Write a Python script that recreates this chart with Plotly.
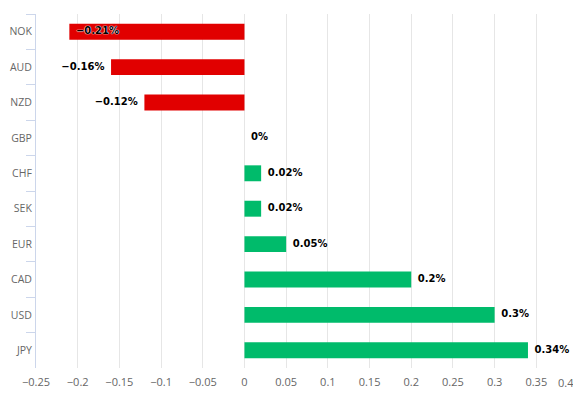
import plotly.graph_objects as go

currencies = ["NOK", "AUD", "NZD", "GBP", "CHF", "SEK", "EUR", "CAD", "USD", "JPY"]
changes = [-0.21, -0.16, -0.12, 0, 0.02, 0.02, 0.05, 0.2, 0.3, 0.34]
x_ticks = [-0.25, -0.2, -0.15, -0.1, -0.05, 0, 0.05, 0.1, 0.15, 0.2, 0.25, 0.3, 0.35, 0.4]

RED = "#e10000"
GREEN = "#00bb6b"

def fmt_pct(v):
    s = ("%g" % v)
    return s.replace("-", "\u2212") + "%"

def fmt_tick(v):
    return ("%g" % v).replace("-", "\u2212")

colors = [RED if v < 0 else GREEN for v in changes]
labels = [fmt_pct(v) for v in changes]

# label placement: outside the bar, except when it would leave the plot (NOK)
xmin = x_ticks[0]
positions = []
for v in changes:
    if v < 0:
        positions.append("middle right" if v - 0.05 < xmin else "middle left")
    else:
        positions.append("middle right")

fig = go.Figure()
fig.add_trace(go.Bar(
    x=changes, y=currencies, orientation="h",
    marker=dict(color=colors, line=dict(width=0)),
    hoverinfo="skip",
))
fig.add_trace(go.Scatter(
    x=changes, y=currencies, mode="markers+text",
    marker=dict(size=9, opacity=0),
    text=labels, textposition=positions,
    textfont=dict(family="DejaVu Sans", size=10, color="#000000",
                  weight="bold",
                  shadow="0 0 1px #fff, 0 0 1px #fff, 0 0 1px #fff"),
    cliponaxis=False, hoverinfo="skip",
))

n = len(currencies)
# last tick label is kept inside the chart (right-aligned at its tick)
inner_ticks = x_ticks[:-1]
fig.update_layout(
    width=573, height=391,
    margin=dict(l=28, r=3, t=6, b=31),
    paper_bgcolor="white", plot_bgcolor="white",
    showlegend=False, bargap=0.55,
    font=dict(family="Open Sans", size=11, color="#666666"),
    annotations=[dict(
        x=x_ticks[-1], xref="x", y=0, yref="paper",
        text=fmt_tick(x_ticks[-1]), showarrow=False,
        xanchor="right", yanchor="top", yshift=-5, xshift=-2,
        font=dict(size=11, color="#666666"),
    )],
)
fig.update_xaxes(
    range=[x_ticks[0], x_ticks[-1]], tickvals=inner_ticks,
    ticktext=[fmt_tick(v) for v in inner_ticks],
    showgrid=True, gridcolor="#e6e6e6", gridwidth=1,
    zeroline=False, showline=False, ticks="", ticklabelstandoff=6,
    tickfont=dict(size=11, color="#666666"), automargin=False,
)
fig.add_vline(x=x_ticks[-1], line=dict(color="#e6e6e6", width=1), layer="below")
fig.update_yaxes(
    categoryorder="array", categoryarray=currencies,
    range=[n - 0.5, -0.5],
    showline=True, linecolor="#ccd6eb", linewidth=1,
    ticks="outside", tickson="boundaries", ticklen=9, tickcolor="#ccd6eb",
    showgrid=False, zeroline=False, automargin=False, ticklabelstandoff=1,
    tickfont=dict(size=10.5, color="#666666"),
)

fig.write_html("out.html")
